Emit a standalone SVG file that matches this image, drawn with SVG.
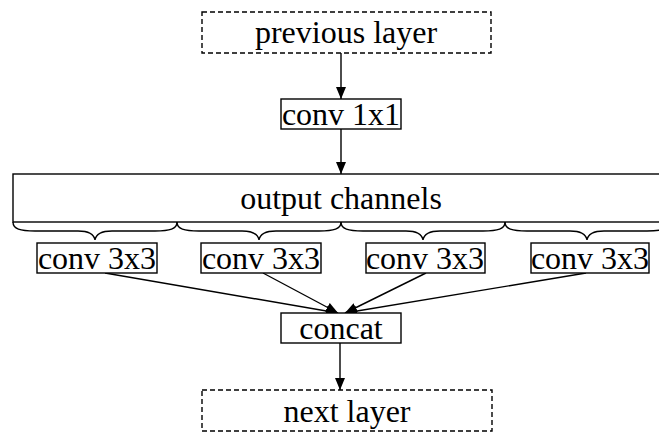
<svg xmlns="http://www.w3.org/2000/svg" width="659" height="432" viewBox="0 0 659 432">
<style>
  .box{fill:#fff;stroke:#000;stroke-width:1.4}
  .dash{fill:#fff;stroke:#000;stroke-width:1.4;stroke-dasharray:5,3}
  .t{font-family:"Liberation Serif","Times New Roman",serif;font-size:32px;fill:#000;text-anchor:middle}
  .e{fill:none;stroke:#000;stroke-width:1.4}
  .br{fill:none;stroke:#000;stroke-width:1.4}
</style>
<defs>
  <marker id="ah" markerWidth="12" markerHeight="10" refX="12" refY="5" orient="auto" markerUnits="userSpaceOnUse">
    <path d="M0,0 L12,5 L0,10 Z" fill="#000"/>
  </marker>
</defs>
<rect width="659" height="432" fill="#fff"/>
<g id="connectors">
  <line class="e" x1="341" y1="53" x2="341" y2="99" marker-end="url(#ah)"/>
  <line class="e" x1="341" y1="129" x2="341" y2="174" marker-end="url(#ah)"/>
  <line class="e" x1="105" y1="273" x2="338" y2="313" marker-end="url(#ah)"/>
  <line class="e" x1="263" y1="273" x2="338" y2="313" marker-end="url(#ah)"/>
  <line class="e" x1="426" y1="273" x2="345" y2="313" marker-end="url(#ah)"/>
  <line class="e" x1="586" y1="273" x2="345" y2="313" marker-end="url(#ah)"/>
  <line class="e" x1="340" y1="343" x2="340" y2="390" marker-end="url(#ah)"/>
</g>
<g id="previous-layer">
  <rect class="dash" x="202" y="12" width="289" height="41"/>
  <text class="t" x="346" y="43">previous layer</text>
</g>
<g id="conv1x1">
  <rect class="box" x="281" y="99" width="120" height="30"/>
  <text class="t" x="341" y="125">conv 1x1</text>
</g>
<g id="output-channels">
  <rect class="box" x="13" y="174" width="660" height="48"/>
  <text class="t" x="341" y="209">output channels</text>
  <path class="br" d="M13,222 C13,229 20,231 35,231 L78,231 C88,231 94,234 95,240 C96,234 102,231 112,231 L155,231 C170,231 177,229 177,222"/>
  <path class="br" d="M177,222 C177,229 184,231 199,231 L242,231 C252,231 258,234 259,240 C260,234 266,231 276,231 L319,231 C334,231 341,229 341,222"/>
  <path class="br" d="M341,222 C341,229 348,231 363,231 L406,231 C416,231 422,234 423,240 C424,234 430,231 440,231 L483,231 C498,231 505,229 505,222"/>
  <path class="br" d="M505,222 C505,229 512,231 527,231 L570,231 C580,231 586,234 587,240 C588,234 594,231 604,231 L647,231 C662,231 669,229 669,222"/>
</g>
<g id="conv3x3-1">
  <rect class="box" x="37" y="243" width="120" height="30"/>
  <text class="t" x="97" y="269">conv 3x3</text>
</g>
<g id="conv3x3-2">
  <rect class="box" x="201" y="243" width="120" height="30"/>
  <text class="t" x="261" y="269">conv 3x3</text>
</g>
<g id="conv3x3-3">
  <rect class="box" x="366" y="243" width="119" height="30"/>
  <text class="t" x="425" y="269">conv 3x3</text>
</g>
<g id="conv3x3-4">
  <rect class="box" x="531" y="243" width="118" height="30"/>
  <text class="t" x="590" y="269">conv 3x3</text>
</g>
<g id="concat">
  <rect class="box" x="281" y="313" width="120" height="30"/>
  <text class="t" x="341" y="339">concat</text>
</g>
<g id="next-layer">
  <rect class="dash" x="202" y="390" width="290" height="41"/>
  <text class="t" x="347" y="422">next layer</text>
</g>
</svg>
